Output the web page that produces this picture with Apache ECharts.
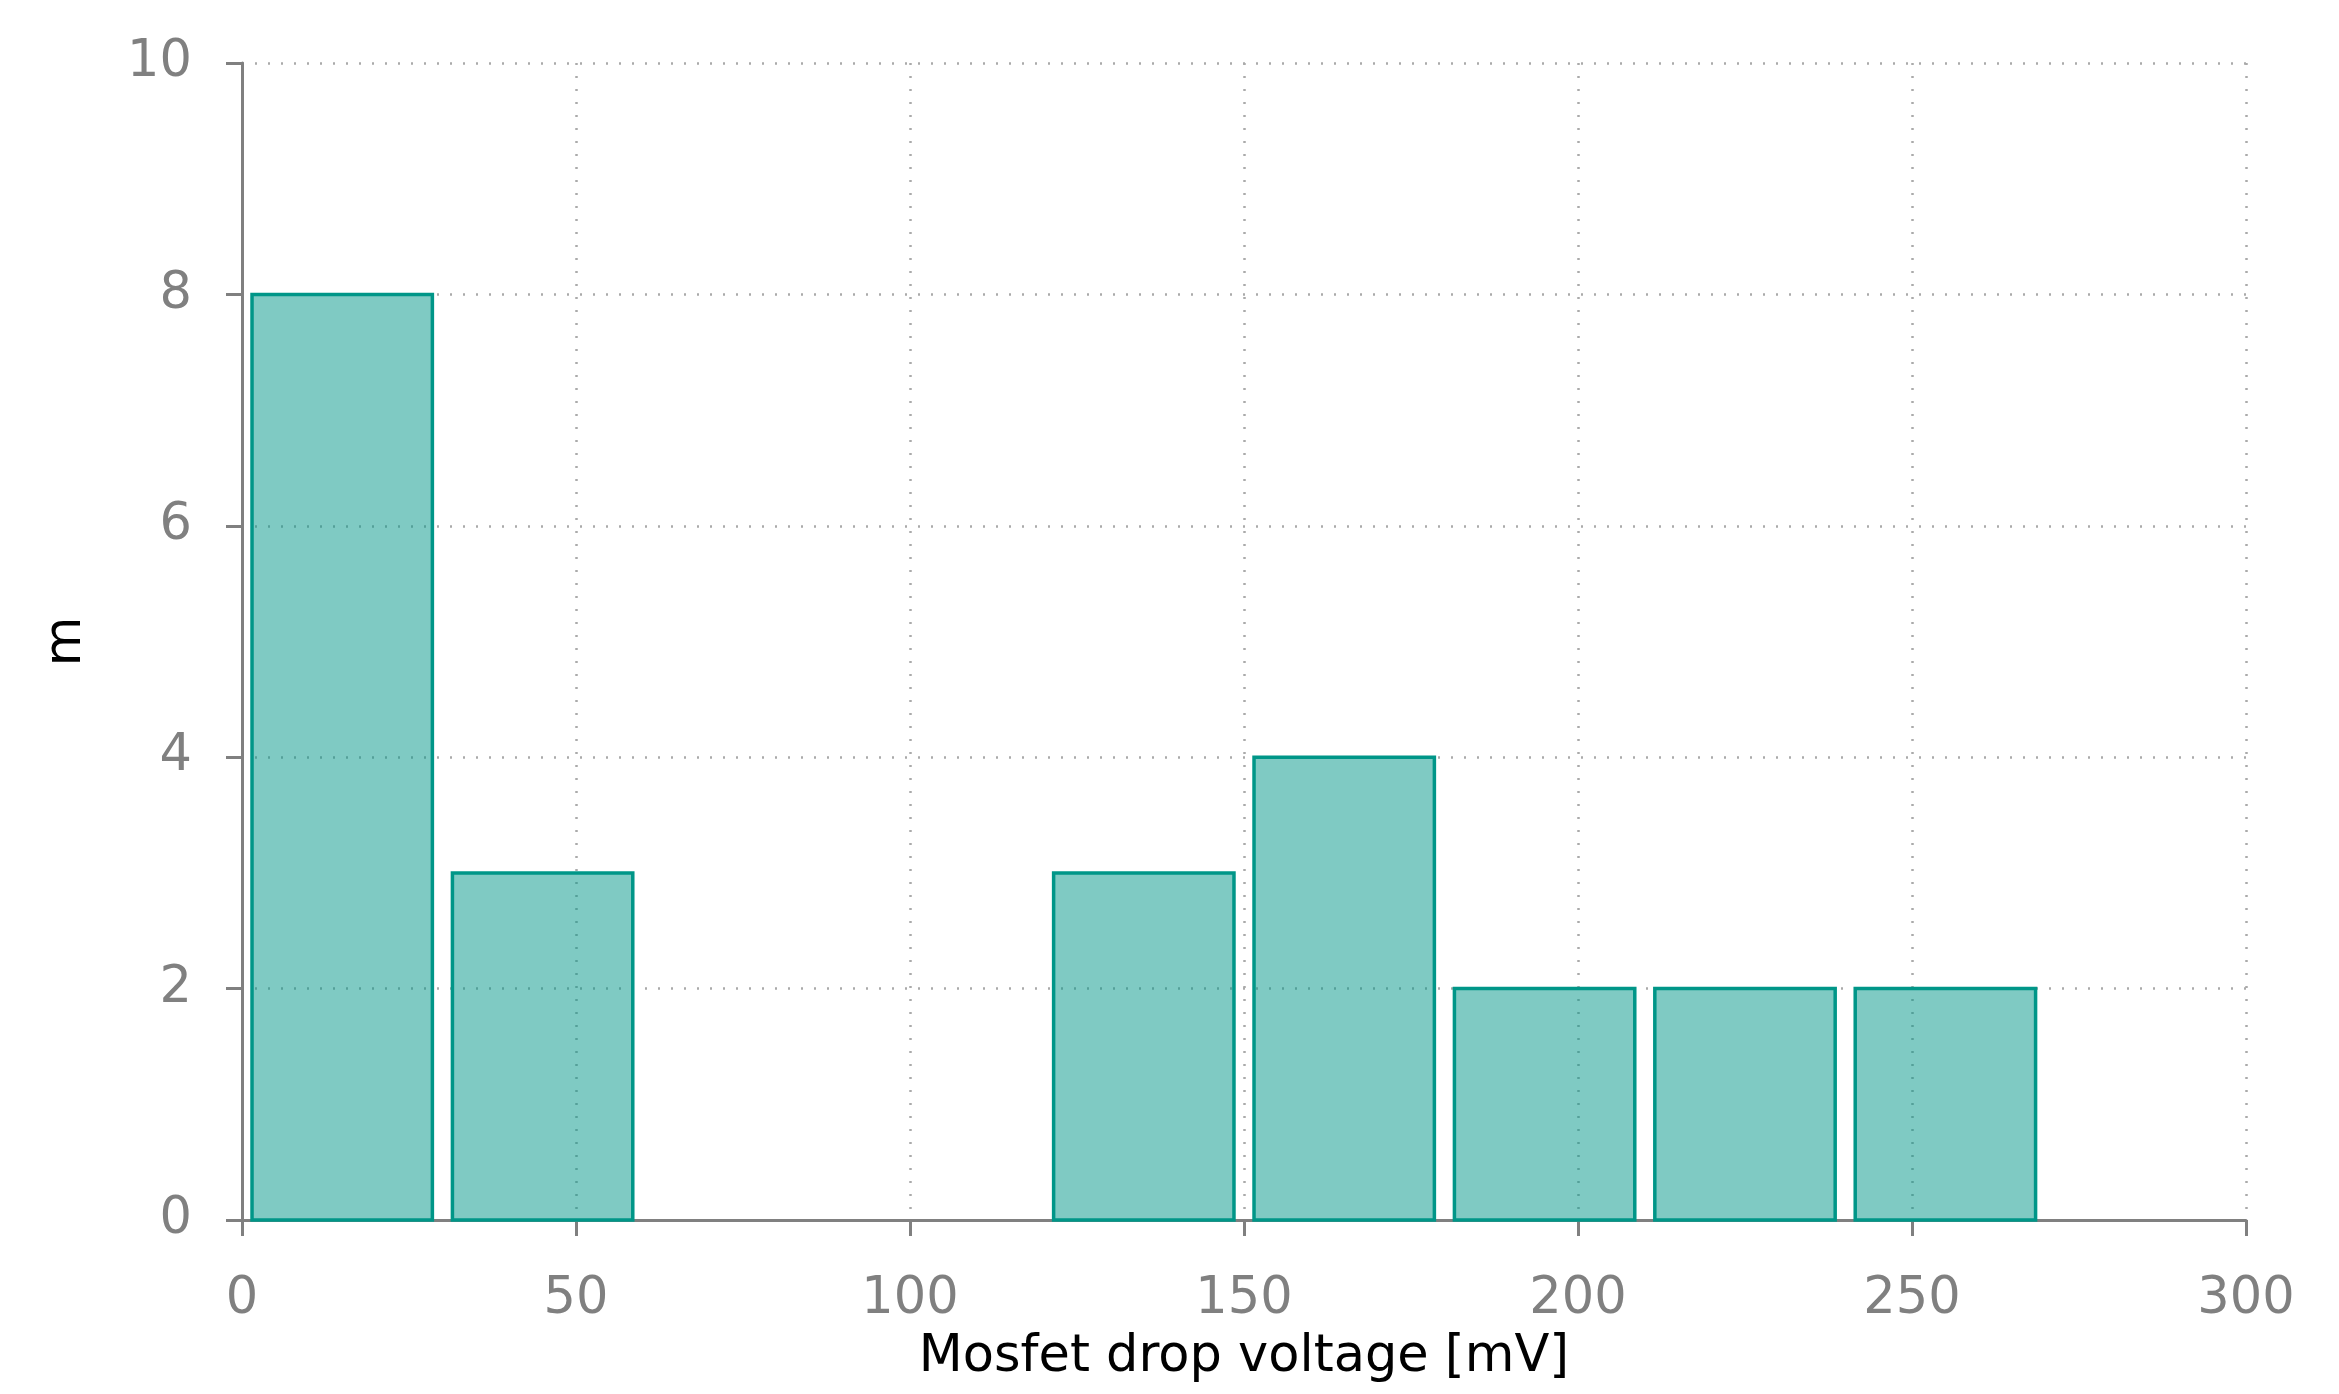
<!DOCTYPE html>
<html>
<head>
<meta charset="utf-8">
<script src="https://cdn.jsdelivr.net/npm/echarts@6/dist/echarts.min.js"></script>
<style>html,body{margin:0;padding:0;background:#fff}#c{width:2339px;height:1394px}</style>
</head>
<body>
<div id="c"></div>
<script>
// Histogram bins (left edges, mV) and counts
const binStarts = [0, 30, 60, 90, 120, 150, 180, 210, 240];
const counts = [8, 3, 0, 0, 3, 4, 2, 2, 2];
const binWidth = 30;
const relWidth = 0.9;
const xTicks = [0, 50, 100, 150, 200, 250, 300];
const yTicks = [0, 2, 4, 6, 8, 10];
const xLabel = 'Mosfet drop voltage [mV]';
const yLabel = 'm';

const data = binStarts.map((s, i) => [s, s + binWidth, counts[i]]);
const gray = '#808080';
const font = 'DejaVu Sans';

const chart = echarts.init(document.getElementById('c'), null, {renderer: 'canvas'});
chart.setOption({
  animation: false,
  backgroundColor: '#fff',
  grid: {left: 242, right: 93, top: 63, bottom: 174, containLabel: false},
  xAxis: {
    type: 'value', min: xTicks[0], max: xTicks[xTicks.length - 1], interval: 50,
    name: xLabel, nameLocation: 'middle', nameGap: 112,
    nameTextStyle: {color: '#000', fontSize: 51, fontFamily: font},
    axisLine: {show: true, onZero: false, lineStyle: {color: gray, width: 3}},
    axisTick: {show: true, length: 16, lineStyle: {color: gray, width: 3}},
    axisLabel: {color: gray, fontSize: 51, fontFamily: font, margin: 54},
    splitLine: {show: true, lineStyle: {color: '#aaaaaa', width: 2.5, type: [2, 11]}}
  },
  yAxis: {
    type: 'value', min: yTicks[0], max: yTicks[yTicks.length - 1], interval: 2,
    name: yLabel, nameLocation: 'middle', nameGap: 150, nameRotate: 90,
    nameTextStyle: {color: '#000', fontSize: 51, fontFamily: font},
    axisLine: {show: true, lineStyle: {color: gray, width: 3}},
    axisTick: {show: true, length: 16, lineStyle: {color: gray, width: 3}},
    axisLabel: {color: gray, fontSize: 51, fontFamily: font, margin: 50},
    splitLine: {show: true, lineStyle: {color: '#aaaaaa', width: 2.5, type: [2, 11]}}
  },
  series: [{
    type: 'custom',
    data: data,
    renderItem: function (params, api) {
      const x0 = api.value(0), x1 = api.value(1), h = api.value(2);
      if (h <= 0) return null;
      const pad = (x1 - x0) * (1 - relWidth) / 2;
      const p0 = api.coord([x0 + pad, h]);
      const p1 = api.coord([x1 - pad, 0]);
      return {
        type: 'rect',
        shape: {x: p0[0], y: p0[1], width: p1[0] - p0[0], height: p1[1] - p0[1]},
        style: {fill: 'rgba(0,150,136,0.5)', stroke: '#009688', lineWidth: 3.5}
      };
    }
  }]
});
</script>
</body>
</html>
